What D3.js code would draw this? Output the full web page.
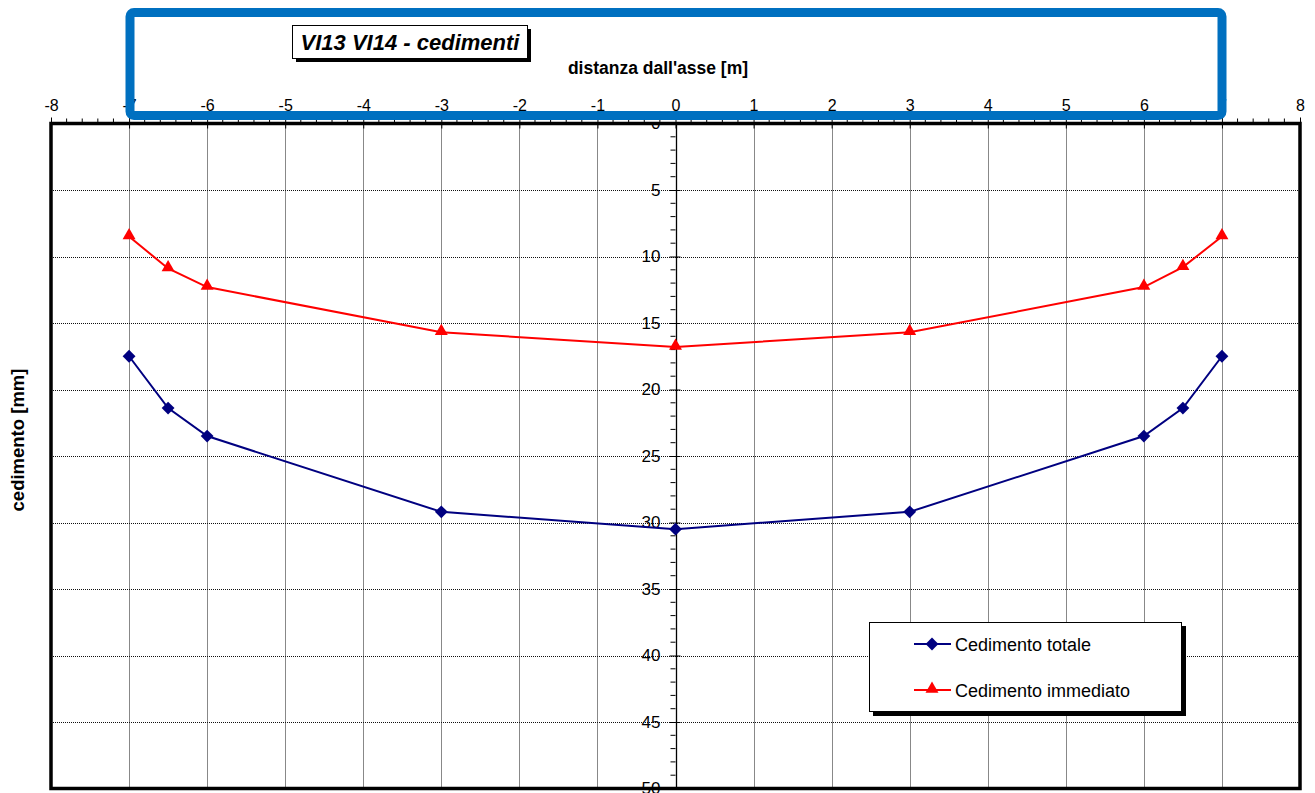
<!DOCTYPE html>
<html>
<head>
<meta charset="utf-8">
<script src="https://cdn.jsdelivr.net/npm/d3@7"></script>
<style>
  body { margin: 0; background: #fff; }
  svg { display: block; font-family: Arial, "Liberation Sans", sans-serif; }
</style>
</head>
<body>
<svg width="1315" height="793"></svg>
<script>
// dati
var distanze = [-7, -6.5, -6, -3, 0, 3, 6, 6.5, 7];
var cedTotale = [17.5, 21.4, 23.5, 29.2, 30.5, 29.2, 23.5, 21.4, 17.5];
var cedImmediato = [8.5, 10.9, 12.3, 15.7, 16.8, 15.7, 12.3, 10.8, 8.5];
var xTicks = [-8, -7, -6, -5, -4, -3, -2, -1, 0, 1, 2, 3, 4, 5, 6, 7, 8];
var yTicks = [0, 5, 10, 15, 20, 25, 30, 35, 40, 45, 50];
var serie = ["Cedimento totale", "Cedimento immediato"];

var svg = d3.select("svg");

var pLeft = 51, pRight = 1300, pTop = 123.5, pBottom = 788.5;

var x = d3.scaleLinear().domain([-8, 8]).range([pLeft, pRight]);
var y = d3.scaleLinear().domain([0, 50]).range([pTop, pBottom]);

// griglia
svg.append("g").selectAll("line")
  .data(xTicks.filter(function(d) { return d != 0 && d > -8 && d < 8; }))
  .enter().append("line")
  .attr("x1", function(d) { return Math.round(x(d)) + 0.5; })
  .attr("x2", function(d) { return Math.round(x(d)) + 0.5; })
  .attr("y1", pTop).attr("y2", pBottom)
  .attr("stroke", "#111").attr("stroke-dasharray", "1,1");

svg.append("g").selectAll("line")
  .data(yTicks.filter(function(d) { return d > 0 && d < 50; }))
  .enter().append("line")
  .attr("x1", pLeft).attr("x2", pRight)
  .attr("y1", function(d) { return Math.round(y(d)) + 0.5; })
  .attr("y2", function(d) { return Math.round(y(d)) + 0.5; })
  .attr("stroke", "#111").attr("stroke-dasharray", "1,1");

// asse x in alto
var xAxis = d3.axisTop(x).tickValues(xTicks).tickSize(5).tickPadding(8)
  .tickFormat(function(d) { return String(d); });
var gx = svg.append("g").attr("transform", "translate(0," + pTop + ")").call(xAxis);
gx.select(".domain").remove();
gx.selectAll("line").attr("y2", -6).attr("y1", 5).attr("stroke", "#000");
gx.selectAll("text").attr("font-size", 16).attr("fill", "#000")
  .attr("font-family", "Arial, 'Liberation Sans', sans-serif");

svg.append("g").selectAll("line")
  .data(d3.range(-80, 81, 2).filter(function(d) { return d % 10 != 0; }))
  .enter().append("line")
  .attr("x1", function(d) { return x(d / 10); })
  .attr("x2", function(d) { return x(d / 10); })
  .attr("y1", pTop - 5).attr("y2", pTop)
  .attr("stroke", "#000");

// asse y sullo zero (etichette tagliate dal bordo superiore)
svg.append("clipPath").attr("id", "clipy")
  .append("rect").attr("x", 0).attr("y", pTop + 1).attr("width", 1315).attr("height", 700);

var yAxis = d3.axisLeft(y).tickValues(yTicks).tickSize(5).tickPadding(10);
var gy = svg.append("g").attr("clip-path", "url(#clipy)")
  .append("g").attr("transform", "translate(" + x(0) + ",0)").call(yAxis);
gy.select(".domain").remove();
gy.selectAll("line").attr("x2", -6).attr("x1", 5).attr("stroke", "#000");
gy.selectAll("text").attr("font-size", 17).attr("fill", "#000")
  .attr("font-family", "Arial, 'Liberation Sans', sans-serif");

svg.append("g").selectAll("line")
  .data(d3.range(0, 51).filter(function(d) { return d % 5 != 0; }))
  .enter().append("line")
  .attr("x1", x(0) - 5).attr("x2", x(0))
  .attr("y1", function(d) { return y(d); })
  .attr("y2", function(d) { return y(d); })
  .attr("stroke", "#000");

svg.append("line")
  .attr("x1", Math.round(x(0)) + 0.5).attr("x2", Math.round(x(0)) + 0.5)
  .attr("y1", pTop).attr("y2", pBottom)
  .attr("stroke", "#000").attr("stroke-width", 1.3);

// serie
var punti = distanze.map(function(d, i) {
  return {x: d, tot: cedTotale[i], imm: cedImmediato[i]};
});

var lineTot = d3.line().x(function(d) { return x(d.x); }).y(function(d) { return y(d.tot); });
var lineImm = d3.line().x(function(d) { return x(d.x); }).y(function(d) { return y(d.imm); });

svg.append("path").datum(punti).attr("d", lineImm)
  .attr("fill", "none").attr("stroke", "#ff0000").attr("stroke-width", 2);
svg.append("path").datum(punti).attr("d", lineTot)
  .attr("fill", "none").attr("stroke", "#000080").attr("stroke-width", 2);

var diamond = d3.symbol().type(d3.symbolDiamond2).size(105);
var triangle = d3.symbol().type(d3.symbolTriangle2).size(120);

svg.append("g").selectAll("path")
  .data(punti).enter().append("path")
  .attr("d", triangle)
  .attr("transform", function(d) { return "translate(" + x(d.x) + "," + (y(d.imm) - 1) + ")"; })
  .attr("fill", "#ff0000");

svg.append("g").selectAll("path")
  .data(punti).enter().append("path")
  .attr("d", diamond)
  .attr("transform", function(d) { return "translate(" + x(d.x) + "," + y(d.tot) + ")"; })
  .attr("fill", "#000080");

// bordo area del grafico
svg.append("rect")
  .attr("x", pLeft).attr("y", pTop)
  .attr("width", pRight - pLeft).attr("height", pBottom - pTop)
  .attr("fill", "none").attr("stroke", "#000").attr("stroke-width", 3.5);

// titoli assi
svg.append("text")
  .attr("x", 658).attr("y", 74)
  .attr("text-anchor", "middle").attr("font-size", 17.5).attr("font-weight", "bold")
  .text("distanza dall'asse [m]");

svg.append("text")
  .attr("transform", "translate(24,440) rotate(-90)")
  .attr("text-anchor", "middle").attr("font-size", 18.5).attr("font-weight", "bold")
  .text("cedimento [mm]");

// titolo con ombra
svg.append("rect").attr("x", 296).attr("y", 29).attr("width", 235).attr("height", 33).attr("fill", "#000");
svg.append("rect").attr("x", 292.5).attr("y", 25.5).attr("width", 235).attr("height", 33)
  .attr("fill", "#fff").attr("stroke", "#000").attr("stroke-width", 1);
svg.append("text")
  .attr("x", 410).attr("y", 50)
  .attr("text-anchor", "middle").attr("font-size", 22)
  .attr("font-weight", "bold").attr("font-style", "italic")
  .text("VI13 VI14 - cedimenti");

// legenda
var leg = svg.append("g");
leg.append("rect").attr("x", 873).attr("y", 626).attr("width", 313).attr("height", 90).attr("fill", "#000");
leg.append("rect").attr("x", 869.5).attr("y", 622.5).attr("width", 312).attr("height", 89)
  .attr("fill", "#fff").attr("stroke", "#000").attr("stroke-width", 1);

var voci = leg.selectAll("g.voce").data(serie).enter().append("g")
  .attr("class", "voce")
  .attr("transform", function(d, i) { return "translate(0," + (644 + i * 46) + ")"; });
voci.append("line").attr("x1", 914).attr("x2", 951).attr("y1", 0).attr("y2", 0)
  .attr("stroke", function(d, i) { return i == 0 ? "#000080" : "#ff0000"; })
  .attr("stroke-width", 2);
voci.append("path")
  .attr("d", function(d, i) { return i == 0 ? diamond() : triangle(); })
  .attr("transform", function(d, i) { return "translate(932," + (i == 0 ? 0 : -1) + ")"; })
  .attr("fill", function(d, i) { return i == 0 ? "#000080" : "#ff0000"; });
voci.append("text").attr("x", 955).attr("y", 6.5)
  .attr("font-size", 18).text(function(d) { return d; });

// riquadro blu sopra
svg.append("rect")
  .attr("x", 130).attr("y", 12.5).attr("width", 1092).attr("height", 103)
  .attr("rx", 4)
  .attr("fill", "none").attr("stroke", "#0070c0").attr("stroke-width", 9);
</script>
</body>
</html>
